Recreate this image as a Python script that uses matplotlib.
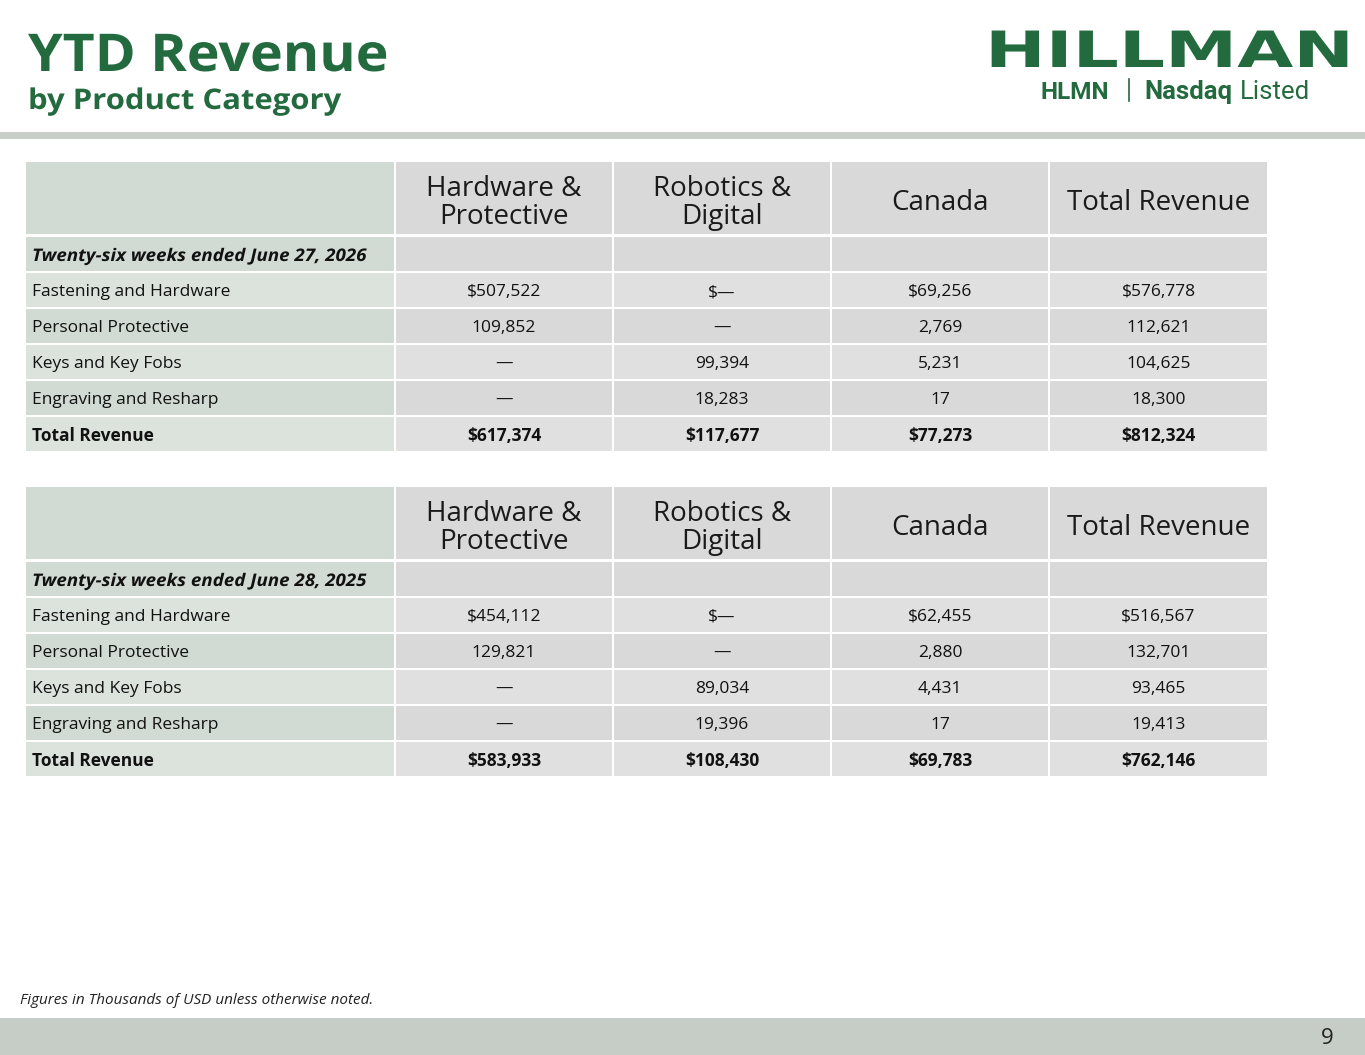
import matplotlib
matplotlib.use("Agg")
import matplotlib.pyplot as plt
from matplotlib.patches import Rectangle
from matplotlib.patheffects import AbstractPathEffect
from matplotlib.transforms import Affine2D

# ---------------- data ----------------
title = "YTD Revenue"
subtitle = "by Product Category"
logo_name = "HILLMAN"
columns = ["Hardware &\nProtective", "Robotics &\nDigital", "Canada", "Total Revenue"]
row_labels = ["Fastening and Hardware", "Personal Protective", "Keys and Key Fobs",
              "Engraving and Resharp", "Total Revenue"]
periods = ["Twenty-six weeks ended June 27, 2026", "Twenty-six weeks ended June 28, 2025"]

hw_2026 = [507522, 109852, 0, 0, 617374]
rd_2026 = [0, 0, 99394, 18283, 117677]
ca_2026 = [69256, 2769, 5231, 17, 77273]
tot_2026 = [576778, 112621, 104625, 18300, 812324]

hw_2025 = [454112, 129821, 0, 0, 583933]
rd_2025 = [0, 0, 89034, 19396, 108430]
ca_2025 = [62455, 2880, 4431, 17, 69783]
tot_2025 = [516567, 132701, 93465, 19413, 762146]

tables = [
    (periods[0], [hw_2026, rd_2026, ca_2026, tot_2026]),
    (periods[1], [hw_2025, rd_2025, ca_2025, tot_2025]),
]
footnote = "Figures in Thousands of USD unless otherwise noted."
page_no = "9"

GREEN = "#236B3F"
BODY = ["Open Sans", "DejaVu Sans"]
HEAD = ["Open Sans", "DejaVu Sans"]


class Stretch(AbstractPathEffect):
    """Scale a text's glyph outlines about its anchor point."""

    def __init__(self, text, sx, sy=1.0):
        super().__init__()
        self.text = text
        self.sx = sx
        self.sy = sy

    def draw_path(self, renderer, gc, tpath, affine, rgbFace=None):
        ax0, ay0 = self.text.get_transform().transform(self.text.get_position())
        extra = Affine2D().translate(-ax0, -ay0).scale(self.sx, self.sy).translate(ax0, ay0)
        renderer.draw_path(gc, tpath, affine + extra, rgbFace)


def stretched_text(ax, x, y, s, sx, sy=1.0, **kw):
    t = ax.text(x, y, s, **kw)
    t.set_path_effects([Stretch(t, sx, sy)])
    return t


def fmt(v, dollar):
    s = "—" if v == 0 else f"{v:,}"
    return ("$" + s) if dollar else s


fig = plt.figure(figsize=(13.65, 10.55), dpi=100)
ax = fig.add_axes([0, 0, 1, 1])
ax.set_xlim(0, 1365)
ax.set_ylim(1055, 0)
ax.axis("off")

# header title
stretched_text(ax, 28, 71, title, 1.065, fontsize=37.5, fontweight="bold",
               color=GREEN, family=HEAD, va="baseline", ha="left")
stretched_text(ax, 28, 109, subtitle, 1.09, fontsize=20.5, fontweight="bold",
               color=GREEN, family=HEAD, va="baseline", ha="left")

# logo
stretched_text(ax, 985, 67, logo_name, 1.45, 1.0, fontsize=36, fontweight="heavy",
               color=GREEN, family=["DejaVu Sans"], va="baseline", ha="left")
ax.text(1040, 99, "HLMN", fontsize=17.5, fontweight="bold", color=GREEN,
        family=["Roboto", "DejaVu Sans"], va="baseline", ha="left")
ax.plot([1129, 1129], [79, 101], color=GREEN, lw=1.2)
ax.text(1144, 99, "Nasdaq", fontsize=18.5, fontweight="bold", color=GREEN,
        family=["Roboto", "DejaVu Sans"], va="baseline", ha="left")
ax.text(1240, 99, "Listed", fontsize=18.5, color=GREEN,
        family=["Roboto", "DejaVu Sans"], va="baseline", ha="left")

# separator bar
ax.add_patch(Rectangle((0, 132), 1365, 7, color="#C8CEC8", lw=0))
# footer band
ax.add_patch(Rectangle((0, 1018), 1365, 37, color="#C6CCC6", lw=0))
ax.text(1327, 1039, page_no, fontsize=16, color="#222222", family=BODY,
        va="center", ha="center")
ax.text(20, 1001, footnote, fontsize=11, style="italic", color="#222222",
        family=BODY, va="center", ha="left")

# tables
col_x = [26, 396, 614, 832, 1050]
col_w = [368, 216, 216, 216, 217]
head_h = 72
row_h = 34
row_step = 36
label_cols = ["#D1DAD3", "#DCE3DD"]
data_cols = ["#D9D9D9", "#E0E0E0"]

for t, (period, series) in enumerate(tables):
    top = 162 + t * 325
    # header row
    ax.add_patch(Rectangle((col_x[0], top), col_w[0], head_h, color="#D1DAD3", lw=0))
    for j, name in enumerate(columns):
        ax.add_patch(Rectangle((col_x[j + 1], top), col_w[j + 1], head_h,
                               color="#D9D9D9", lw=0))
        ax.text(col_x[j + 1] + col_w[j + 1] / 2, top + head_h / 2 + 5, name,
                fontsize=20, color="#1a1a1a", family=BODY, ha="center",
                va="center", linespacing=0.98)
    # body rows
    labels = [period] + row_labels
    for i, lab in enumerate(labels):
        ry = top + head_h + 3 + i * row_step
        ax.add_patch(Rectangle((col_x[0], ry), col_w[0], row_h,
                               color=label_cols[i % 2], lw=0))
        is_period = i == 0
        is_total = i == len(labels) - 1
        if is_period:
            stretched_text(ax, 32, ry + row_h / 2 + 2, lab, 1.08, fontsize=12.5,
                           family=BODY, color="#111111", ha="left", va="center",
                           fontweight="bold", style="italic")
        else:
            ax.text(32, ry + row_h / 2 + 2, lab, fontsize=12.5, family=BODY,
                    color="#111111", ha="left", va="center",
                    fontweight="bold" if is_total else "normal")
        for j in range(4):
            ax.add_patch(Rectangle((col_x[j + 1], ry), col_w[j + 1], row_h,
                                   color=data_cols[i % 2], lw=0))
            if not is_period:
                k = i - 1
                v = series[j][k]
                dollar = (k == 0) or is_total
                ax.text(col_x[j + 1] + col_w[j + 1] / 2, ry + row_h / 2 + 2,
                        fmt(v, dollar), fontsize=12.5, family=BODY,
                        color="#111111", ha="center", va="center",
                        fontweight="bold" if is_total else "normal")

fig.savefig("out.png", dpi=100, facecolor="white")
